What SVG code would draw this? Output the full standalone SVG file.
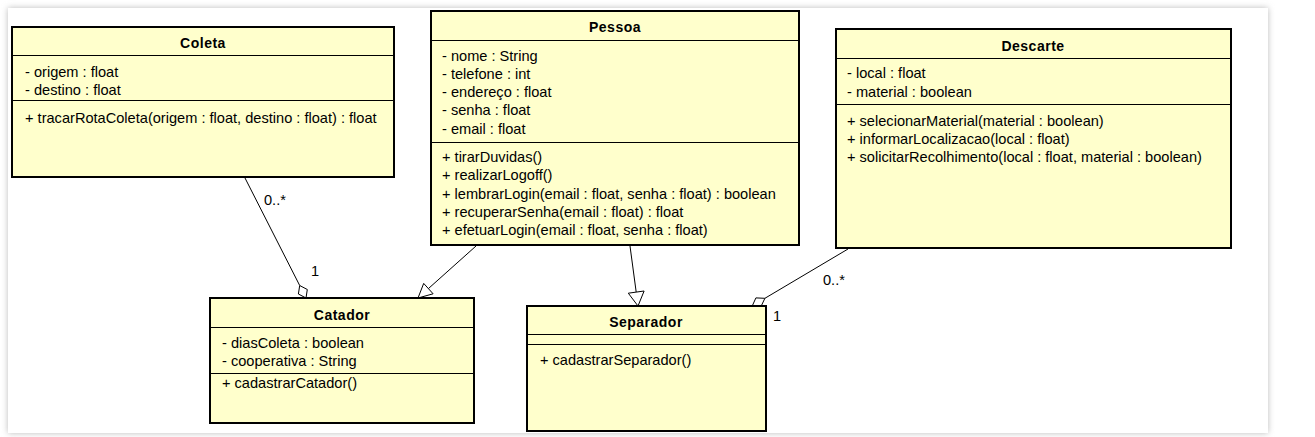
<svg xmlns="http://www.w3.org/2000/svg" width="1315" height="437" viewBox="0 0 1315 437">
<defs>
<filter id="sh" x="-5%" y="-10%" width="110%" height="120%">
<feGaussianBlur stdDeviation="3"/>
</filter>
</defs>
<style>
.box{fill:#ffffcc;stroke:#000;stroke-width:2}
.div{stroke:#000;stroke-width:1}
.t{font-family:"Liberation Sans",Arial,sans-serif;font-size:14.6px;fill:#000}
.h{font-family:"Liberation Sans",Arial,sans-serif;font-size:14px;font-weight:bold;fill:#000;text-anchor:middle;letter-spacing:0.5px}
.ln{stroke:#000;stroke-width:1;fill:none}
.hd{fill:#fff;stroke:#000;stroke-width:1}
</style>
<rect x="0" y="0" width="1315" height="437" fill="#fff"/>
<rect x="8" y="8" width="1260" height="425" fill="#bbb" filter="url(#sh)"/>
<rect x="8" y="8" width="1260" height="425" fill="#fff"/>

<g id="connectors">
<line class="ln" x1="245" y1="178" x2="299.7" y2="285.5"/>
<polygon class="hd" points="306,298 307.3,289.5 299.7,285.5 298.4,294"/>
<line class="ln" x1="476" y1="246" x2="428.4" y2="288.6"/>
<polygon class="hd" points="418,298 433.1,293.8 423.7,283.4"/>
<line class="ln" x1="630" y1="246" x2="636.2" y2="292.1"/>
<polygon class="hd" points="638,306 644.1,291 628.3,293.2"/>
<line class="ln" x1="848" y1="249" x2="764.9" y2="298.3"/>
<polygon class="hd" points="752,306.5 761,306.5 764.9,298.3 755.9,297.9"/>
<text class="t" x="264" y="205">0..*</text>
<text class="t" x="311" y="276">1</text>
<text class="t" x="823" y="285">0..*</text>
<text class="t" x="773" y="321">1</text>
</g>

<g id="Coleta">
<rect class="box" x="12" y="27" width="382" height="150"/>
<line class="div" x1="12" y1="55.5" x2="394" y2="55.5"/>
<line class="div" x1="12" y1="100.5" x2="394" y2="100.5"/>
<text class="h" x="203" y="48">Coleta</text>
<text class="t" x="25" y="77">- origem : float</text>
<text class="t" x="25" y="95">- destino : float</text>
<text class="t" x="25" y="123">+ tracarRotaColeta(origem : float, destino : float) : float</text>
</g>

<g id="Pessoa">
<rect class="box" x="431" y="11" width="368" height="234"/>
<line class="div" x1="431" y1="40.5" x2="799" y2="40.5"/>
<line class="div" x1="431" y1="142.5" x2="799" y2="142.5"/>
<text class="h" x="615" y="32">Pessoa</text>
<text class="t" x="442" y="61">- nome : String</text>
<text class="t" x="442" y="79">- telefone : int</text>
<text class="t" x="442" y="97">- endereço : float</text>
<text class="t" x="442" y="115">- senha : float</text>
<text class="t" x="442" y="134">- email : float</text>
<text class="t" x="442" y="162">+ tirarDuvidas()</text>
<text class="t" x="442" y="180">+ realizarLogoff()</text>
<text class="t" x="442" y="199">+ lembrarLogin(email : float, senha : float) : boolean</text>
<text class="t" x="442" y="217">+ recuperarSenha(email : float) : float</text>
<text class="t" x="442" y="235">+ efetuarLogin(email : float, senha : float)</text>
</g>

<g id="Descarte">
<rect class="box" x="836" y="29" width="395" height="219"/>
<line class="div" x1="836" y1="58.5" x2="1231" y2="58.5"/>
<line class="div" x1="836" y1="104.5" x2="1231" y2="104.5"/>
<text class="h" x="1033" y="51">Descarte</text>
<text class="t" x="847" y="78">- local : float</text>
<text class="t" x="847" y="97">- material : boolean</text>
<text class="t" x="847" y="126">+ selecionarMaterial(material : boolean)</text>
<text class="t" x="847" y="144">+ informarLocalizacao(local : float)</text>
<text class="t" x="847" y="162">+ solicitarRecolhimento(local : float, material : boolean)</text>
</g>

<g id="Catador">
<rect class="box" x="210" y="298" width="264" height="125"/>
<line class="div" x1="210" y1="327.5" x2="474" y2="327.5"/>
<line class="div" x1="210" y1="373.5" x2="474" y2="373.5"/>
<text class="h" x="342" y="320">Catador</text>
<text class="t" x="222" y="348">- diasColeta : boolean</text>
<text class="t" x="222" y="366">- cooperativa : String</text>
<text class="t" x="222" y="388">+ cadastrarCatador()</text>
</g>

<g id="Separador">
<rect class="box" x="527" y="306" width="239" height="125"/>
<line class="div" x1="527" y1="334.5" x2="766" y2="334.5"/>
<line class="div" x1="527" y1="344.5" x2="766" y2="344.5"/>
<text class="h" x="646" y="327">Separador</text>
<text class="t" x="540" y="365">+ cadastrarSeparador()</text>
</g>
</svg>
